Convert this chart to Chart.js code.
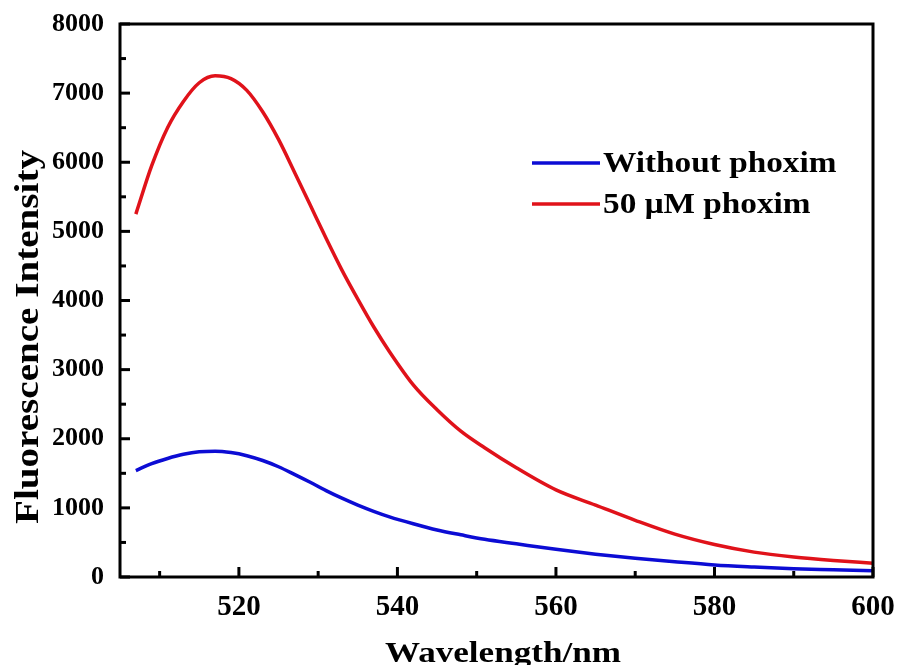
<!DOCTYPE html>
<html>
<head>
<meta charset="utf-8">
<script src="https://cdn.jsdelivr.net/npm/chart.js@4.4.0/dist/chart.umd.min.js"></script>
<style>
  html, body { margin: 0; padding: 0; background: #fff; }
  #wrap { width: 898px; height: 665px; }
</style>
</head>
<body>
<div id="wrap"><canvas id="spectrum"></canvas></div>
<script>
// wavelengths (nm)
const wavelengths = [507, 509, 511, 513, 515, 517, 519, 521, 523, 525, 527, 529, 531, 533, 535, 537, 539,
                     542, 545, 548, 551, 555, 560, 565, 570, 575, 580, 585, 590, 595, 600];
const withoutPhoxim = [1540, 1640, 1715, 1775, 1812, 1820, 1800, 1755, 1685, 1595, 1485, 1370, 1250, 1140, 1040, 950, 870,
                       770, 680, 610, 545, 480, 400, 330, 270, 220, 175, 145, 120, 105, 90];
const withPhoxim = [5250, 5950, 6500, 6880, 7150, 7250, 7210, 7040, 6730, 6330, 5860, 5380, 4900, 4440, 4020, 3620, 3260,
                    2780, 2420, 2110, 1870, 1580, 1260, 1040, 820, 620, 470, 360, 290, 240, 200];
const seriesNames = ['Without phoxim', '50 μM phoxim'];
const seriesColors = ['#0c0cd4', '#e0121a'];
const xMajor = [520, 540, 560, 580, 600];
const yMajor = [0, 1000, 2000, 3000, 4000, 5000, 6000, 7000, 8000];
const xTitle = 'Wavelength/nm';
const yTitle = 'Fluorescence Intensity';

const FONT = '"Liberation Serif", "Times New Roman", serif';

function toPoints(ys) {
    return wavelengths.map((x, i) => ({ x: x, y: ys[i] }));
}

// box around the plot + ticks pointing inward
const framePlugin = {
    id: 'frame',
    afterDatasetsDraw(chart) {
        const { ctx, chartArea: a, scales } = chart;
        ctx.save();
        ctx.strokeStyle = '#000';
        ctx.lineWidth = 3;
        ctx.strokeRect(a.left, a.top, a.right - a.left, a.bottom - a.top);
        scales.x.ticks.forEach(t => {
            const px = scales.x.getPixelForValue(t.value);
            const len = xMajor.includes(t.value) ? 10 : 6;
            ctx.beginPath();
            ctx.moveTo(px, a.bottom);
            ctx.lineTo(px, a.bottom - len);
            ctx.stroke();
        });
        scales.y.ticks.forEach(t => {
            const py = scales.y.getPixelForValue(t.value);
            const len = yMajor.includes(t.value) ? 10 : 6;
            ctx.beginPath();
            ctx.moveTo(a.left, py);
            ctx.lineTo(a.left + len, py);
            ctx.stroke();
        });
        ctx.restore();
    }
};

// axis titles and legend, text is a little wide in the original
const textPlugin = {
    id: 'texts',
    afterDraw(chart) {
        const { ctx } = chart;
        ctx.save();
        ctx.fillStyle = '#000';

        // x title
        ctx.save();
        ctx.font = 'bold 30px ' + FONT;
        ctx.textAlign = 'center';
        ctx.textBaseline = 'alphabetic';
        ctx.translate(503, 662);
        ctx.scale(1.17, 1);
        ctx.fillText(xTitle, 0, 0);
        ctx.restore();

        // y title
        ctx.save();
        ctx.font = 'bold 34px ' + FONT;
        ctx.textAlign = 'center';
        ctx.textBaseline = 'middle';
        ctx.translate(29, 337);
        ctx.rotate(-Math.PI / 2);
        ctx.scale(1.15, 1);
        ctx.fillText(yTitle, 0, 0);
        ctx.restore();

        // legend
        ctx.font = 'bold 30px ' + FONT;
        ctx.textBaseline = 'middle';
        chart.data.datasets.forEach((ds, i) => {
            const y = 163 + i * 41;
            ctx.strokeStyle = ds.borderColor;
            ctx.lineWidth = 3.5;
            ctx.beginPath();
            ctx.moveTo(532, y);
            ctx.lineTo(600, y);
            ctx.stroke();
            ctx.save();
            ctx.translate(603, y + 1);
            ctx.scale(1.11, 1);
            ctx.fillText(ds.label, 0, 0);
            ctx.restore();
        });
        ctx.restore();
    }
};

new Chart(document.getElementById('spectrum'), {
    type: 'line',
    data: {
        datasets: [
            { label: seriesNames[0], data: toPoints(withoutPhoxim), borderColor: seriesColors[0] },
            { label: seriesNames[1], data: toPoints(withPhoxim), borderColor: seriesColors[1] }
        ]
    },
    options: {
        responsive: true,
        maintainAspectRatio: false,
        animation: false,
        layout: { padding: { top: 24, right: 25, left: 0, bottom: 0 } },
        elements: {
            line: { borderWidth: 3.5, cubicInterpolationMode: 'monotone', fill: false },
            point: { radius: 0 }
        },
        plugins: {
            legend: { display: false },
            tooltip: { enabled: false }
        },
        scales: {
            x: {
                type: 'linear',
                min: 505,
                max: 600,
                afterBuildTicks: s => { s.ticks = []; for (let v = 510; v <= 600; v += 10) s.ticks.push({ value: v }); },
                afterFit: s => { s.height = 88; s.paddingLeft = 0; s.paddingRight = 0; },
                grid: { display: false },
                border: { display: false },
                ticks: {
                    autoSkip: false,
                    maxRotation: 0,
                    padding: 5,
                    color: '#000',
                    font: { family: FONT, size: 29, weight: 'bold' },
                    callback: v => xMajor.includes(v) ? v : ''
                }
            },
            y: {
                min: 0,
                max: 8000,
                afterBuildTicks: s => { s.ticks = []; for (let v = 0; v <= 8000; v += 500) s.ticks.push({ value: v }); },
                afterFit: s => { s.width = 120; s.paddingTop = 0; s.paddingBottom = 0; },
                grid: { display: false },
                border: { display: false },
                ticks: {
                    autoSkip: false,
                    padding: 8,
                    color: '#000',
                    font: { family: FONT, size: 26, weight: 'bold' },
                    callback: v => yMajor.includes(v) ? v : ''
                }
            }
        }
    },
    plugins: [framePlugin, textPlugin]
});
</script>
</body>
</html>
